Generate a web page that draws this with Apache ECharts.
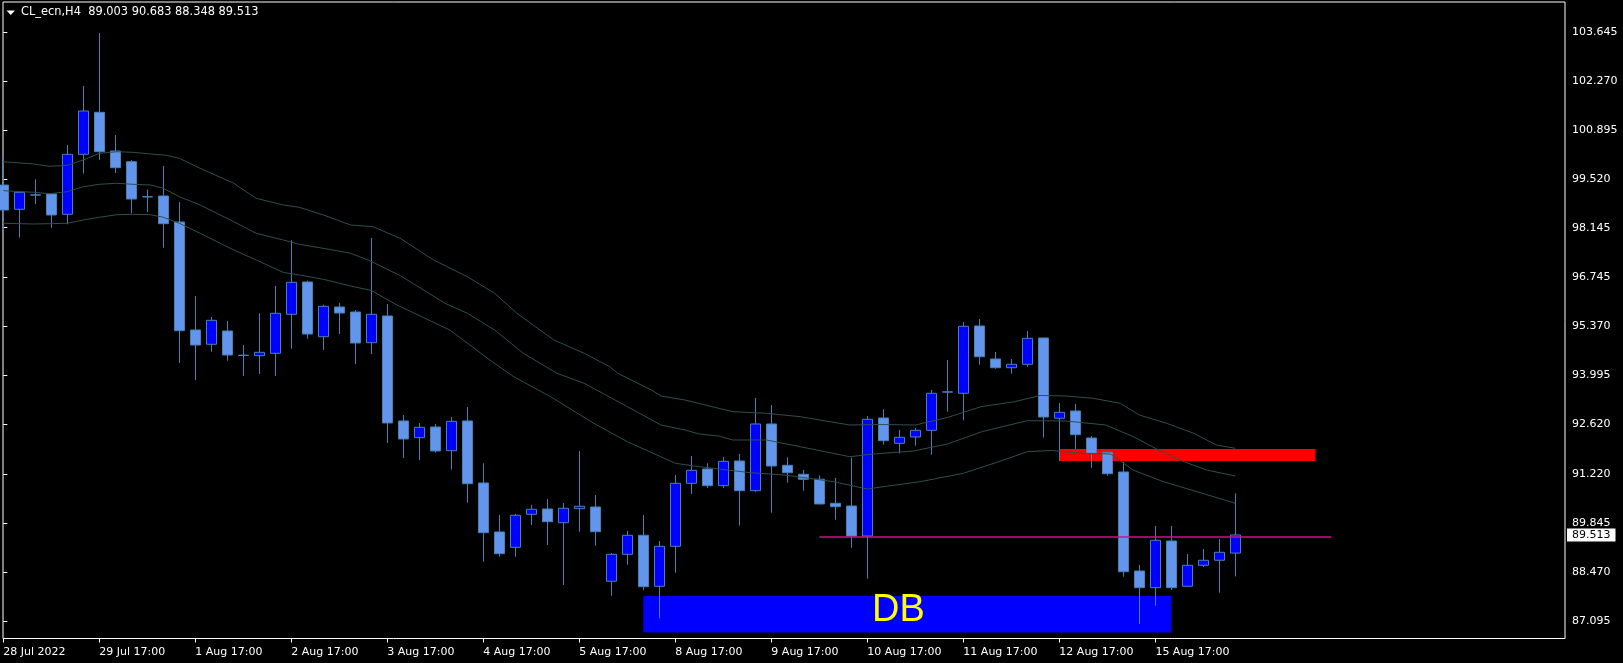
<!DOCTYPE html>
<html>
<head>
<meta charset="utf-8">
<script src="https://cdn.jsdelivr.net/npm/echarts@6/dist/echarts.min.js"></script>
<style>
html,body{margin:0;padding:0;background:#000;}
#c{width:1623px;height:663px;}
</style>
</head>
<body>
<div id="c"></div>
<script>
// ---- data ----
const symbol = 'CL_ecn,H4';
const open  = [99.345,98.663,99.060,99.093,98.523,100.208,101.389,100.301,100.001,99.010,99.037,98.306,95.272,94.870,95.244,94.555,94.550,94.617,95.713,96.620,95.083,95.918,95.777,94.915,95.665,92.715,92.246,92.546,91.880,92.715,90.973,89.596,89.166,90.093,90.242,89.857,90.251,90.298,88.211,88.969,89.503,88.070,89.194,90.964,91.366,90.897,91.591,90.756,92.631,91.470,91.217,91.077,90.402,90.326,89.483,92.799,92.088,92.265,92.453,93.525,93.493,95.384,94.457,94.212,94.308,95.047,92.791,92.996,92.237,91.836,91.282,88.500,88.031,89.343,88.070,88.660,88.801,89.003];
const high  = [100.160,99.141,99.506,99.100,100.470,102.128,103.617,100.751,100.048,99.219,99.880,98.868,96.227,95.637,95.525,94.850,95.741,96.508,97.792,96.660,95.982,96.039,95.833,97.857,96.002,92.884,92.659,92.631,92.827,93.108,91.526,90.074,90.102,90.355,90.523,90.411,91.872,90.635,89.006,89.624,90.074,89.343,91.197,91.731,91.526,91.703,91.788,93.361,93.164,91.694,91.338,91.189,91.113,91.683,92.855,93.044,92.462,92.518,93.586,94.429,95.497,95.581,94.654,94.457,95.244,95.060,93.221,93.192,92.293,91.850,91.571,88.669,89.765,89.765,88.978,89.118,89.399,90.683];
const low   = [98.060,97.865,98.812,98.146,98.242,99.663,100.048,99.683,98.551,98.587,97.584,94.344,93.867,94.662,94.409,93.979,94.035,93.979,94.746,95.027,94.710,95.159,94.316,94.597,92.097,91.675,91.619,91.824,91.346,90.419,88.761,88.902,88.902,89.793,89.231,88.107,89.604,89.211,87.806,88.677,87.966,87.171,88.452,90.664,90.832,90.832,89.773,90.728,90.138,90.981,90.756,90.374,89.941,89.155,88.284,92.049,91.802,92.020,91.768,92.976,92.734,94.296,94.184,94.044,94.232,92.246,91.591,91.928,91.403,91.177,88.340,87.011,87.525,87.966,88.070,88.612,87.890,88.348];
const close = [98.643,99.141,99.070,98.503,100.208,101.425,100.282,99.832,98.952,99.020,98.259,95.252,94.850,95.544,94.569,94.565,94.645,95.741,96.612,95.159,95.937,95.749,94.906,95.713,92.659,92.209,92.538,91.872,92.706,90.953,89.576,88.986,90.065,90.234,89.885,90.262,90.318,89.604,88.969,89.503,88.059,89.194,90.964,91.329,90.897,91.582,90.756,92.631,91.450,91.262,91.077,90.383,90.307,89.483,92.762,92.161,92.257,92.453,93.493,93.535,95.376,94.521,94.212,94.308,95.038,92.827,92.959,92.330,91.807,91.233,88.480,88.031,89.363,88.031,88.660,88.801,89.026,89.513];

// moving-average envelope, read as [bar index, price]
const bandUpper = [[0,100.00],[1.9,99.936],[2.9,99.871],[4,99.899],[5,100.048],[6,100.236],[7.1,100.281],[8.1,100.265],[9.2,100.217],[10.2,100.18],[11,100.096],[12.3,99.815],[14.4,99.394],[15.8,98.972],[17.5,98.784],[18.5,98.719],[20,98.503],[21.7,98.222],[23.1,98.174],[24.8,97.848],[26.9,97.238],[29,96.769],[30.7,96.303],[32.1,95.741],[34.4,94.991],[36.3,94.617],[37.9,94.241],[38.4,94.055],[40.5,93.586],[41.1,93.417],[42.6,93.305],[44.7,93.072],[45.6,92.976],[47.7,92.931],[49.8,92.836],[52.9,92.602],[54.8,92.616],[57,92.602],[59,92.813],[61.1,93.117],[63.2,93.257],[64.8,93.431],[66.4,93.417],[68.1,93.353],[69.8,93.212],[71,92.883],[72.7,92.65],[74.4,92.369],[75.8,92.04],[77,91.947]];
const bandMiddle = [[0,99.186],[1.9,99.141],[2.9,99.101],[4,99.158],[5,99.298],[6,99.366],[7.1,99.394],[8.1,99.366],[9.2,99.346],[10,99.253],[11,99.017],[12.3,98.784],[14.4,98.315],[15.8,97.989],[17.5,97.8],[18.5,97.679],[20,97.567],[21.7,97.427],[22.8,97.238],[24.85,96.79],[27.6,96.022],[29,95.741],[30.7,95.272],[32.5,94.617],[34.6,94.055],[36.3,93.774],[39,93.117],[41.1,92.602],[42.6,92.462],[43.5,92.349],[44.7,92.293],[45.6,92.181],[47.7,92.181],[49.8,91.993],[52.9,91.711],[54.4,91.788],[56.9,91.872],[59,92.069],[61.2,92.42],[64,92.723],[66.4,92.715],[68.9,92.602],[70.6,92.279],[72,91.947],[73.5,91.619],[75.2,91.338],[77,91.169]];
const bandLower = [[0,98.27],[1.9,98.25],[2.9,98.259],[4,98.27],[5,98.363],[6,98.438],[7.1,98.511],[8.1,98.523],[9.2,98.511],[10,98.438],[11,98.27],[12.3,97.989],[14.4,97.52],[15.8,97.239],[17.5,96.89],[18.5,96.817],[20,96.696],[21.7,96.508],[23,96.382],[24.6,95.974],[27.9,95.272],[30.4,94.429],[31.9,93.96],[34.2,93.398],[36.9,92.65],[39,92.133],[42,91.526],[43.5,91.431],[46.7,91.262],[48.8,91.197],[51.9,91.009],[54,90.804],[55,90.869],[57.3,91.009],[60,91.245],[62.1,91.554],[64,91.852],[65.5,91.886],[67.4,91.807],[69.2,91.788],[70.6,91.338],[72.5,91.009],[74.6,90.728],[77,90.402]];

// drawn objects: [fromBar, toBar, price(s)]
const levelLine = [51, 83, 89.455];
const redZone = [66, 82, 91.591, 91.928];
const dbZone = [40, 73, 86.775, 87.798];
const dbText = 'DB';

// axis labels
const labelBars = [0,6,12,18,24,30,36,42,48,54,60,66,72];
const xLabels = ['28 Jul 2022','29 Jul 17:00','1 Aug 17:00','2 Aug 17:00','3 Aug 17:00','4 Aug 17:00','5 Aug 17:00','8 Aug 17:00','9 Aug 17:00','10 Aug 17:00','11 Aug 17:00','12 Aug 17:00','15 Aug 17:00'];
const yTicks = [87.095,88.470,89.845,91.220,92.620,93.995,95.370,96.745,98.145,99.520,100.895,102.270,103.645];

// ---- chart ----
const FONT = 'DejaVu Sans';
const candles = open.map((o, i) => [i, o, close[i], low[i], high[i]]);
const last = open.length - 1;
const header = symbol + '  ' + [open[last], high[last], low[last], close[last]].map(v => v.toFixed(3)).join(' ');

const chart = echarts.init(document.getElementById('c'), null, {renderer: 'canvas'});
chart.setOption({
  animation: false,
  backgroundColor: '#000',
  title: {
    text: header, left: 21, top: 7, padding: 0,
    textStyle: {color: '#fff', fontSize: 11.4, fontWeight: 'normal', fontFamily: FONT}
  },
  graphic: [{
    type: 'polygon', shape: {points: [[6.5, 10.5], [15, 10.5], [10.75, 15]]}, style: {fill: '#fff'}
  }],
  grid: {left: 3, right: 58, top: 2, bottom: 24.5, show: true, borderColor: '#fff', borderWidth: 1, backgroundColor: 'transparent'},
  xAxis: {
    type: 'value', min: -0.02, max: 97.6,
    axisLine: {show: false},
    splitLine: {show: false},
    axisTick: {show: true, length: 4, lineStyle: {color: '#fff'}, customValues: labelBars},
    axisLabel: {
      customValues: labelBars, color: '#fff', fontSize: 11, fontFamily: FONT, align: 'left', margin: 8,
      formatter: v => xLabels[labelBars.indexOf(Math.round(v))] || ''
    }
  },
  yAxis: {
    type: 'value', position: 'right', min: 86.603, max: 104.488, scale: true,
    axisLine: {show: false},
    splitLine: {show: false},
    axisTick: {show: true, length: 4, lineStyle: {color: '#fff'}, customValues: yTicks},
    axisLabel: {customValues: yTicks, color: '#fff', fontSize: 11, fontFamily: FONT, margin: 7,
      formatter: v => v.toFixed(3)}
  },
  series: [
    {
      type: 'line', data: [], z: 1, silent: true,
      markArea: {
        silent: true, z: 1,
        data: [
          [{coord: [redZone[0], redZone[3]], itemStyle: {color: '#FF0000', opacity: 1}, label: {show: false}},
           {coord: [redZone[1], redZone[2]]}],
          [{coord: [dbZone[0], dbZone[3]], itemStyle: {color: '#0000FF', opacity: 1},
            label: {show: true, position: 'inside', formatter: dbText, color: '#FFFF00', fontSize: 38,
              fontFamily: 'Liberation Sans', offset: [-9, -4]}},
           {coord: [dbZone[1], dbZone[2]]}]
        ]
      }
    },
    {
      type: 'candlestick', data: candles, z: 3, barWidth: 10, silent: true,
      itemStyle: {color: '#0000FF', color0: '#6495ED', borderColor: '#4682B4', borderColor0: '#4682B4', borderWidth: 1},
      markLine: {
        silent: true, symbol: 'none', z: 6,
        lineStyle: {color: 'rgba(0,0,0,0)', width: 0},
        label: {show: true, position: 'end', distance: 2, formatter: () => close[last].toFixed(3),
          color: '#000', backgroundColor: '#fff', padding: [1, 5, 0, 5], fontSize: 11, fontFamily: FONT, lineHeight: 12},
        data: [{yAxis: close[last]}]
      }
    },
    {type: 'line', data: bandUpper, z: 4, showSymbol: false, silent: true, lineStyle: {color: '#2F4F4F', width: 1}},
    {type: 'line', data: bandMiddle, z: 4, showSymbol: false, silent: true, lineStyle: {color: '#2F4F4F', width: 1}},
    {type: 'line', data: bandLower, z: 4, showSymbol: false, silent: true, lineStyle: {color: '#2F4F4F', width: 1}},
    {type: 'line', data: [[levelLine[0], levelLine[2]], [levelLine[1], levelLine[2]]], z: 5, showSymbol: false, silent: true,
      lineStyle: {color: '#C71585', width: 1.5}}
  ]
});
</script>
</body>
</html>
